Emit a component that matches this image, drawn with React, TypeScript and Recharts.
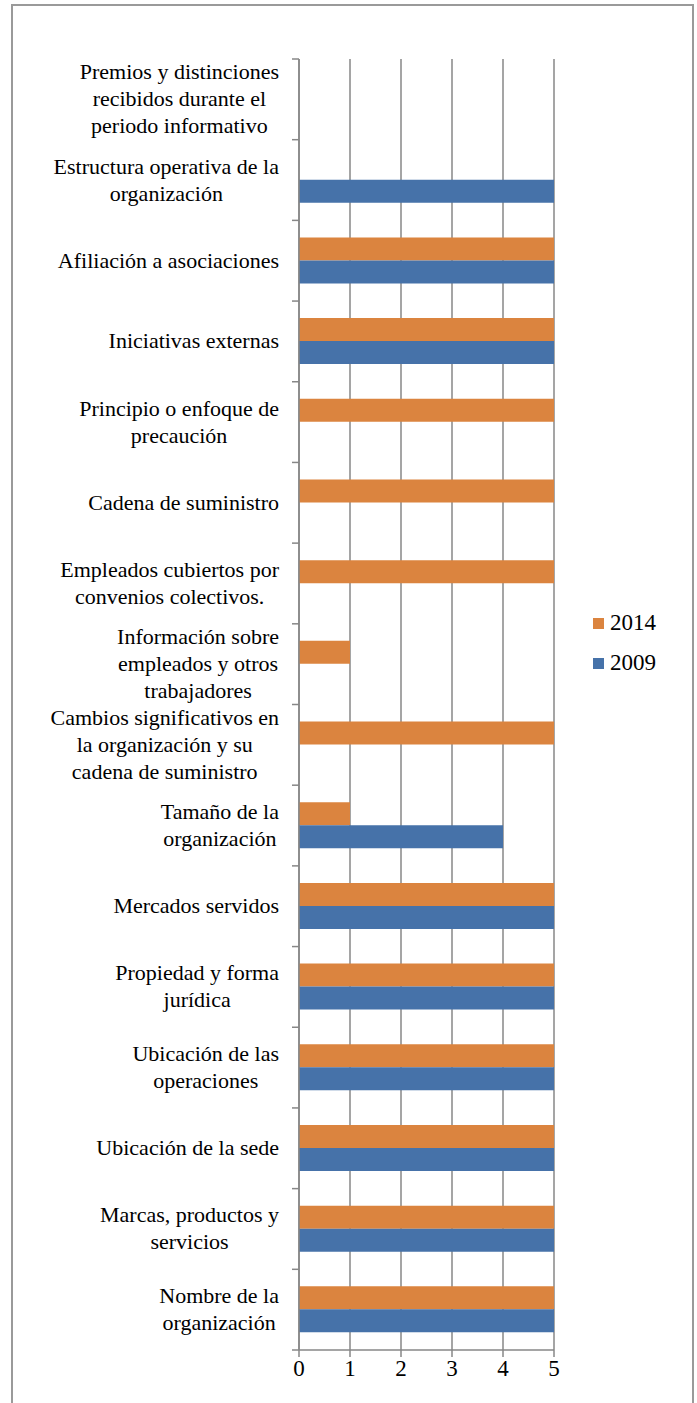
import { BarChart, Bar, XAxis, YAxis, CartesianGrid } from "recharts";

const categories = [
  "Premios y distinciones\nrecibidos durante el\nperiodo informativo",
  "Estructura operativa de la\norganización",
  "Afiliación a asociaciones",
  "Iniciativas externas",
  "Principio o enfoque de\nprecaución",
  "Cadena de suministro",
  "Empleados cubiertos por\nconvenios colectivos.",
  "Información sobre\nempleados y otros\ntrabajadores",
  "Cambios significativos en\nla organización y su\ncadena de suministro",
  "Tamaño de la\norganización",
  "Mercados servidos",
  "Propiedad y forma\njurídica",
  "Ubicación de las\noperaciones",
  "Ubicación de la sede",
  "Marcas, productos y\nservicios",
  "Nombre de la\norganización",
];

const values2014 = [0, 0, 5, 5, 5, 5, 5, 1, 5, 1, 5, 5, 5, 5, 5, 5];
const values2009 = [0, 5, 5, 5, 0, 0, 0, 0, 0, 4, 5, 5, 5, 5, 5, 5];
const xTicks = [0, 1, 2, 3, 4, 5];
const legendItems = ["2014", "2009"];

const data = categories.map((name, i) => ({
  name,
  y2014: values2014[i],
  y2009: values2009[i],
}));

const ORANGE = "#DB843F";
const BLUE = "#4672A9";
const GRID = "#878787";
const LINE_H = 27;

// pick a serif font that is really installed, then size it so the
// first label is about as wide as in the picture (216px)
const canvas = document.createElement("canvas");
const ctx = canvas.getContext("2d") as CanvasRenderingContext2D;
const widthOf = (s: string, font: string) => {
  ctx.font = font;
  return ctx.measureText(s).width;
};
const probe = "Premios y distinciones";
const candidates = ["Liberation Serif", "Tinos", "Times New Roman", "DejaVu Serif", "Noto Serif"];
let family = "serif";
for (const c of candidates) {
  const a = widthOf(probe + "mmwwiill", `40px '${c}', monospace`);
  const b = widthOf(probe + "mmwwiill", "40px monospace");
  if (Math.abs(a - b) > 0.5) {
    family = `'${c}'`;
    break;
  }
}
const FONT = `${family}, serif`;
const FONT_SIZE = Math.min(22, (216 / widthOf(probe, `100px ${FONT}`)) * 100);

const measure = (s: string) => widthOf(s, `${FONT_SIZE}px ${FONT}`);

// y axis tick: multi-line centred label, tick marks between categories
const CategoryTick = (props: any) => {
  const { x, y, payload, index, visibleTicksCount } = props;
  const lines = String(payload.value).split("\n");
  const half = payload.offset || 40.35;
  const axisX = x + 8;
  const maxW = Math.max(...lines.map(measure));
  const cx = axisX - 20 - maxW / 2;
  const top = y - ((lines.length - 1) * LINE_H) / 2;
  return (
    <g>
      <line x1={axisX - 7} x2={axisX} y1={y - half} y2={y - half} stroke={GRID} strokeWidth={1.5} />
      {index === visibleTicksCount - 1 && (
        <line x1={axisX - 7} x2={axisX} y1={y + half} y2={y + half} stroke={GRID} strokeWidth={1.5} />
      )}
      <text x={cx} y={top} textAnchor="middle" fontFamily={FONT} fontSize={FONT_SIZE} fill="#000">
        {lines.map((l, i) => (
          <tspan key={i} x={cx} y={top + i * LINE_H} dy={7}>
            {l}
          </tspan>
        ))}
      </text>
    </g>
  );
};

export default function App() {
  return (
    <div style={{ position: "absolute", left: 0, top: 0, width: 697, height: 1403, overflow: "hidden", background: "#fff" }}>
      <div
        style={{
          position: "absolute",
          left: 11,
          top: 4,
          width: 679,
          height: 1420,
          border: "2px solid #9a9a9a",
        }}
      />
      <BarChart
        width={697}
        height={1403}
        data={data}
        layout="vertical"
        margin={{ top: 59, right: 143, bottom: 0, left: 0 }}
        barGap={0}
        style={{ position: "absolute", left: 0, top: 0 }}
      >
        <CartesianGrid horizontal={false} stroke={GRID} strokeWidth={1.5} />
        <XAxis
          type="number"
          domain={[0, 5]}
          ticks={xTicks}
          height={53}
          axisLine={{ stroke: GRID, strokeWidth: 1.5 }}
          tickLine={{ stroke: GRID, strokeWidth: 1.5 }}
          tickSize={7}
          tick={{ fill: "#000", fontFamily: FONT, fontSize: FONT_SIZE + 1 }}
          tickMargin={3}
        />
        <YAxis
          type="category"
          dataKey="name"
          width={299}
          axisLine={{ stroke: GRID, strokeWidth: 1.5 }}
          tickLine={false}
          tick={<CategoryTick />}
          interval={0}
        />
        <Bar dataKey="y2014" fill={ORANGE} barSize={23} isAnimationActive={false} />
        <Bar dataKey="y2009" fill={BLUE} barSize={23} isAnimationActive={false} />
      </BarChart>
      <div
        style={{
          position: "absolute",
          left: 593,
          top: 603,
          fontFamily: FONT,
          fontSize: FONT_SIZE + 1,
          color: "#000",
        }}
      >
        {legendItems.map((label, i) => (
          <div key={label} style={{ display: "flex", alignItems: "center", height: 40 }}>
            <span
              style={{
                width: 11,
                height: 11,
                background: i === 0 ? ORANGE : BLUE,
                marginRight: 6,
                display: "inline-block",
              }}
            />
            <span>{label}</span>
          </div>
        ))}
      </div>
    </div>
  );
}
